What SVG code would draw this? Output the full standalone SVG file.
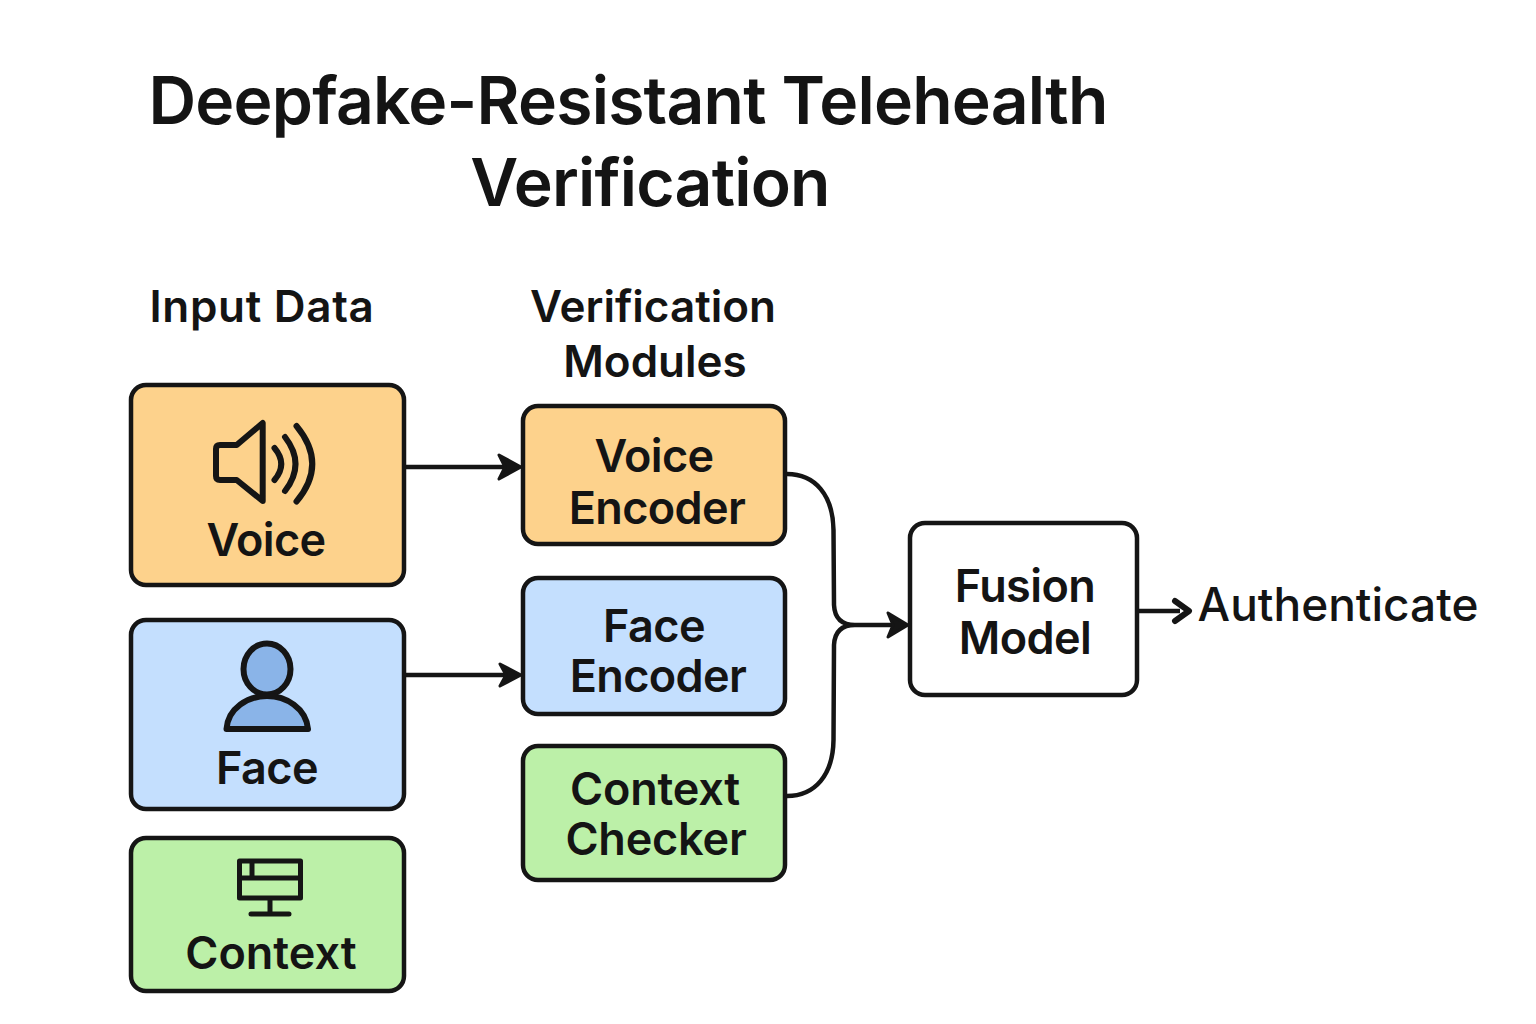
<svg xmlns="http://www.w3.org/2000/svg" width="1536" height="1024" viewBox="0 0 1536 1024">
<style>
text{font-family:Inter,"Liberation Sans",sans-serif;font-weight:600;fill:#141414;text-anchor:middle}
.title{font-size:66px;letter-spacing:-.78px}
.head{font-size:44px}
.lab{font-size:45px;letter-spacing:-.6px}
.box{stroke:#151515;stroke-width:4.500}
.o{fill:#fdd28c}.b{fill:#c4dffe}.g{fill:#bcf0a8}.w{fill:#fff}
.ic{fill:none;stroke:#151515;stroke-width:6;stroke-linecap:round;stroke-linejoin:round}
.c{fill:none;stroke:#151515;stroke-width:4.500}
.ah{fill:#151515;stroke:#151515;stroke-width:3;stroke-linejoin:round}
</style>
<rect width="1536" height="1024" fill="#fff"/>
<g id="title"><text class="title" x="628" y="124">Deepfake-Resistant Telehealth</text><text class="title" x="650" y="206">Verification</text></g>
<g id="col-input"><text class="head" style="letter-spacing:.7px" x="262" y="322">Input Data</text></g>
<g id="col-modules"><text class="head" x="653" y="322">Verification</text><text class="head" x="655" y="377">Modules</text></g>
<g id="connectors">
<path class="c" d="M405 467H505M405 675H505M787 474C815 474 833 495 833.500 530L834 605Q835 625 855 625H895M787 796C815 796 833 775 833.500 740L834 645Q835 625 855 625M1138 611H1180"/>
<path class="ah" d="M499 455L521 467L499 479L505 467Z"/>
<path class="ah" d="M500 664L521 675L500 686L506 675Z"/>
<path class="ah" d="M888 613L908 625L888 637L893 625Z"/>
<path class="c" style="stroke-linecap:round;stroke-linejoin:round;stroke-width:6" d="M1175 601L1189 611L1175 621"/>
</g>
<g id="voice"><rect class="box o" x="131" y="385" width="273" height="200" rx="15"/>
<path class="ic" d="M220 445H236.700L262.700 423V501L236.700 480H220Q216 480 216 476V449Q216 445 220 445ZM274.500 448Q288 464 274.500 480M285 437Q306 464 285 491M296.500 426Q328 464 296.500 501.500"/>
<text class="lab" x="266" y="556">Voice</text></g>
<g id="face"><rect class="box b" x="131" y="620" width="273" height="189" rx="15"/>
<ellipse class="ic" style="fill:#8ab4e8" cx="267" cy="669" rx="23.500" ry="25.500"/>
<path class="ic" style="fill:#8ab4e8" d="M226.500 729C228 708 248 696 267 696C286 696 306 708 308 729Z"/>
<text class="lab" x="267" y="784">Face</text></g>
<g id="context"><rect class="box g" x="131" y="838" width="273" height="153" rx="15"/>
<path class="ic" style="stroke-width:5" d="M239.500 861H300.500V898H239.500ZM239.500 878H300.500M252 861V878M270 898V913M251 914H289"/>
<text class="lab" style="letter-spacing:0" x="271" y="969">Context</text></g>
<g id="voice-encoder"><rect class="box o" x="523" y="406" width="262" height="138" rx="15"/><text class="lab" x="654" y="472">Voice</text><text class="lab" x="657" y="524">Encoder</text></g>
<g id="face-encoder"><rect class="box b" x="523" y="578" width="262" height="136" rx="15"/><text class="lab" x="654" y="642">Face</text><text class="lab" x="658" y="692">Encoder</text></g>
<g id="context-checker"><rect class="box g" x="523" y="746" width="262" height="134" rx="15"/><text class="lab" style="letter-spacing:-.2px" x="655" y="805">Context</text><text class="lab" style="letter-spacing:-.2px" x="656" y="855">Checker</text></g>
<g id="fusion"><rect class="box w" x="910" y="523" width="227" height="172" rx="15"/><text class="lab" x="1025" y="602">Fusion</text><text class="lab" x="1025" y="654">Model</text></g>
<g id="authenticate"><text class="lab" style="font-size:46px;font-weight:500;letter-spacing:0" x="1338" y="621">Authenticate</text></g>
</svg>
